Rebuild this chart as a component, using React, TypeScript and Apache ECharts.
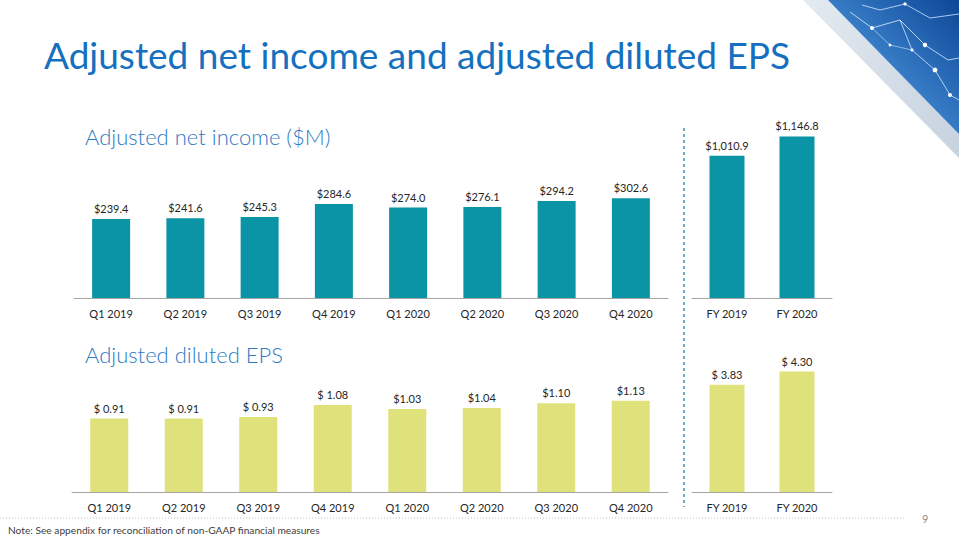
import React, { useEffect, useRef } from "react";
import * as echarts from "echarts";

const quarters = ["Q1 2019", "Q2 2019", "Q3 2019", "Q4 2019", "Q1 2020", "Q2 2020", "Q3 2020", "Q4 2020"];
const years = ["FY 2019", "FY 2020"];

const netIncomeQ = [239.4, 241.6, 245.3, 284.6, 274.0, 276.1, 294.2, 302.6];
const netIncomeQLabels = ["$239.4", "$241.6", "$245.3", "$284.6", "$274.0", "$276.1", "$294.2", "$302.6"];
const netIncomeFY = [1010.9, 1146.8];
const netIncomeFYLabels = ["$1,010.9", "$1,146.8"];

const epsQ = [0.91, 0.91, 0.93, 1.08, 1.03, 1.04, 1.1, 1.13];
const epsQLabels = ["$ 0.91", "$ 0.91", "$ 0.93", "$ 1.08", "$1.03", "$1.04", "$1.10", "$1.13"];
const epsFY = [3.83, 4.3];
const epsFYLabels = ["$ 3.83", "$ 4.30"];

const FONT = "Lato";
const TEAL = "#0A94A6";
const LIME = "#DFE17B";
const TEXT = "#262626";
const BLUE = "#1570C0";

function xAxis(grid: number, data: string[]) {
  return {
    type: "category",
    gridIndex: grid,
    data,
    axisTick: { show: false },
    axisLine: { lineStyle: { color: "#A6A6A6", width: 1 } },
    axisLabel: { color: TEXT, fontSize: 11, fontFamily: FONT, margin: 10 },
  };
}

function yAxis(grid: number, max: number) {
  return { type: "value", gridIndex: grid, min: 0, max, show: false };
}

function bars(idx: number, values: number[], labels: string[], color: string, width: number) {
  return {
    type: "bar",
    xAxisIndex: idx,
    yAxisIndex: idx,
    data: values,
    barWidth: width,
    itemStyle: { color },
    label: {
      show: true,
      position: "top",
      distance: 5,
      color: TEXT,
      fontSize: 11,
      fontFamily: FONT,
      formatter: (p: any) => labels[p.dataIndex],
    },
  };
}

export default function App() {
  const ref = useRef<HTMLDivElement>(null);
  useEffect(() => {
    if (!ref.current) return;
    const chart = echarts.init(ref.current, undefined, { renderer: "svg" });
    chart.setOption({
      animation: false,
      backgroundColor: "#ffffff",
      grid: [
        { left: 74, right: 291, top: 166, bottom: 242 },
        { left: 692, right: 127, top: 129, bottom: 242 },
        { left: 72, right: 291, top: 371, bottom: 48 },
        { left: 692, right: 127, top: 352, bottom: 48 },
      ],
      xAxis: [xAxis(0, quarters), xAxis(1, years), xAxis(2, quarters), xAxis(3, years)],
      yAxis: [yAxis(0, 400), yAxis(1, 1200), yAxis(2, 1.5), yAxis(3, 5)],
      series: [
        bars(0, netIncomeQ, netIncomeQLabels, TEAL, 38),
        bars(1, netIncomeFY, netIncomeFYLabels, TEAL, 35),
        bars(2, epsQ, epsQLabels, LIME, 38),
        bars(3, epsFY, epsFYLabels, LIME, 35),
      ],
      graphic: [
        // top-right decoration
        {
          type: "polygon",
          shape: { points: [[803, 0], [959, 0], [959, 158]] },
          style: {
            fill: new echarts.graphic.LinearGradient(0, 0, 1, 1, [
              { offset: 0, color: "#e3eaf1" },
              { offset: 1, color: "#c6d2de" },
            ]),
          },
        },
        {
          type: "polygon",
          shape: { points: [[828, 0], [959, 0], [959, 134]] },
          style: {
            fill: new echarts.graphic.LinearGradient(0, 1, 1, 0, [
              { offset: 0, color: "#a9c8e6" },
              { offset: 0.4, color: "#3f86cf" },
              { offset: 1, color: "#0d4796" },
            ]),
          },
        },
        {
          type: "polyline",
          shape: { points: [[850, 12], [872, 28], [900, 20], [925, 45], [948, 60], [959, 58]] },
          style: { stroke: "#dbefff", lineWidth: 0.8, fill: null },
        },
        {
          type: "polyline",
          shape: { points: [[862, 5], [880, 10], [905, 4], [930, 18], [959, 14]] },
          style: { stroke: "#cfe8ff", lineWidth: 0.8, fill: null },
        },
        {
          type: "polyline",
          shape: { points: [[900, 20], [912, 50], [935, 70], [950, 95], [959, 100]] },
          style: { stroke: "#cfe8ff", lineWidth: 0.8, fill: null },
        },
        {
          type: "polyline",
          shape: { points: [[872, 28], [890, 45], [912, 50]] },
          style: { stroke: "#cfe8ff", lineWidth: 0.6, fill: null },
        },
        { type: "circle", shape: { cx: 872, cy: 28, r: 2 }, style: { fill: "#ffffff" } },
        { type: "circle", shape: { cx: 925, cy: 45, r: 2.2 }, style: { fill: "#ffffff" } },
        { type: "circle", shape: { cx: 912, cy: 50, r: 1.6 }, style: { fill: "#e6f4ff" } },
        { type: "circle", shape: { cx: 935, cy: 70, r: 2.4 }, style: { fill: "#ffffff" } },
        { type: "circle", shape: { cx: 950, cy: 95, r: 2 }, style: { fill: "#ffffff" } },
        { type: "circle", shape: { cx: 905, cy: 4, r: 1.6 }, style: { fill: "#ffffff" } },
        { type: "circle", shape: { cx: 890, cy: 45, r: 1.4 }, style: { fill: "#ffffff" } },
        // title
        {
          type: "text",
          left: 44,
          top: 36,
          style: { text: "Adjusted net income and adjusted diluted EPS", fill: BLUE, fontSize: 37, fontFamily: FONT },
        },
        {
          type: "text",
          left: 85,
          top: 125,
          style: { text: "Adjusted net income ($M)", fill: "#2E7BC4", fontSize: 22, fontFamily: FONT, fontWeight: 300 },
        },
        {
          type: "text",
          left: 85,
          top: 343,
          style: { text: "Adjusted diluted EPS", fill: "#2E7BC4", fontSize: 22, fontFamily: FONT, fontWeight: 300 },
        },
        // dashed divider
        {
          type: "line",
          shape: { x1: 684, y1: 128, x2: 684, y2: 507 },
          style: { stroke: "#3F93B5", lineWidth: 1.5, lineDash: [3, 3] },
        },
        // footer
        {
          type: "line",
          shape: { x1: 0, y1: 518, x2: 905, y2: 518 },
          style: { stroke: "#BFBFBF", lineWidth: 1, lineDash: [1, 2] },
        },
        {
          type: "text",
          left: 922,
          top: 513,
          style: { text: "9", fill: "#8C8C8C", fontSize: 11, fontFamily: FONT },
        },
        {
          type: "text",
          left: 8,
          top: 525,
          style: {
            text: "Note: See appendix for reconciliation of non-GAAP financial measures",
            fill: "#404040",
            fontSize: 10.2,
            fontFamily: FONT,
          },
        },
      ],
    });
    return () => chart.dispose();
  }, []);
  return (
    <div
      ref={ref}
      style={{ position: "fixed", left: 0, top: 0, width: 959, height: 540, background: "#fff" }}
    />
  );
}
